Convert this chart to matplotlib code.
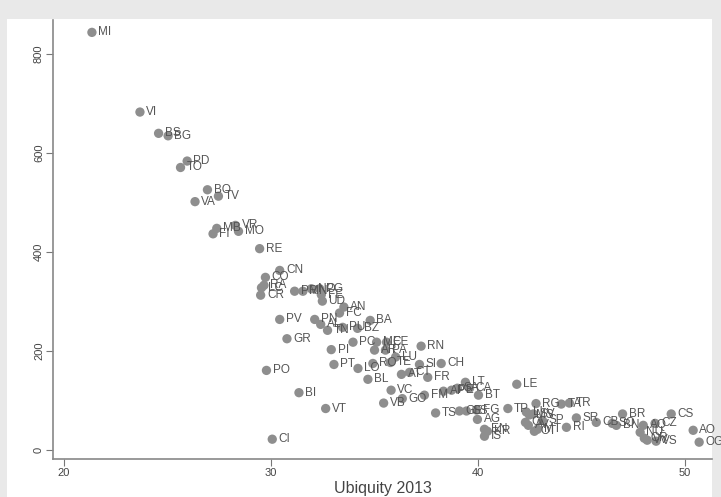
import matplotlib
matplotlib.use('Agg')
import matplotlib.pyplot as plt
from matplotlib.patches import Rectangle

plt.rcParams['font.family'] = ['Liberation Sans', 'DejaVu Sans']

# province codes, ubiquity 2013 (x) and value (y)
codes = ['MI', 'VI', 'BS', 'BG', 'PD', 'TO', 'BO', 'TV', 'VA', 'MB', 'FI', 'VR', 'MO', 'RE',
         'CN', 'CO', 'RA', 'LC', 'CR', 'PR', 'MN', 'NO', 'PG', 'FE', 'UD', 'AN', 'FC',
         'PV', 'PN', 'AL', 'TN', 'PU', 'BZ', 'BA', 'GR', 'PI', 'PC', 'ME', 'CE', 'AR', 'PA',
         'LU', 'PT', 'LO', 'RO', 'TE', 'BL', 'AT', 'CT', 'SI', 'CH', 'RN', 'FR', 'VC', 'VB',
         'GO', 'FM', 'AP', 'PE', 'SA', 'LT', 'CA', 'BT', 'TS', 'GE', 'SS', 'FG', 'AG', 'EN',
         'KR', 'IS', 'TP', 'LE', 'RG', 'TA', 'TR', 'LI', 'MS', 'SV', 'CL', 'AV', 'OT', 'MT',
         'SP', 'RI', 'SR', 'CB', 'SO', 'BN', 'BR', 'AQ', 'NU', 'CZ', 'OR', 'VV', 'VS', 'CS',
         'AO', 'OG', 'PO', 'BI', 'VT', 'CI']
ubiquity = [21.35, 23.67, 24.57, 25.03, 25.95, 25.63, 26.93, 27.46, 26.33, 27.38, 27.20, 28.28, 28.43, 29.45,
            30.42, 29.73, 29.66, 29.54, 29.50, 31.14, 31.54, 31.95, 32.35, 32.43, 32.48, 33.52, 33.31,
            30.42, 32.11, 32.40, 32.73, 33.46, 34.18, 34.79, 30.77, 32.91, 33.96, 35.10, 35.58, 35.00, 35.53,
            36.02, 33.04, 34.20, 34.92, 35.77, 34.68, 36.30, 36.69, 37.17, 38.22, 37.25, 37.57, 35.80, 35.44,
            36.34, 37.41, 38.33, 38.72, 39.00, 39.39, 39.59, 40.02, 37.95, 39.10, 39.44, 39.92, 39.97, 40.31,
            40.45, 40.31, 41.44, 41.87, 42.80, 44.02, 44.41, 42.33, 42.48, 42.67, 42.29, 42.43, 42.72, 42.87,
            43.11, 44.27, 44.75, 45.71, 46.48, 46.68, 46.98, 47.98, 47.83, 48.55, 48.03, 48.17, 48.60, 49.33,
            50.39, 50.68, 29.78, 31.35, 32.64, 30.06]
value = [844, 683, 640, 635, 584, 571, 526, 513, 502, 448, 437, 454, 442, 407,
         363, 349, 333, 328, 313, 321, 321, 326, 326, 314, 301, 289, 277,
         264, 264, 254, 242, 248, 246, 262, 225, 203, 218, 218, 218, 202, 202,
         188, 173, 165, 175, 177, 143, 153, 157, 173, 175, 210, 147, 121, 95,
         104, 111, 119, 121, 125, 137, 125, 111, 75, 79, 79, 81, 62, 42,
         38, 28, 84, 133, 94, 93, 95, 77, 71, 73, 56, 50, 38, 42,
         60, 46, 65, 56, 54, 50, 73, 50, 36, 54, 24, 20, 18, 73,
         40, 16, 161, 116, 84, 22]

xticks = [20, 30, 40, 50]
yticks = [0, 200, 400, 600, 800]

fig = plt.figure(figsize=(7.21, 4.97), dpi=100, facecolor='#e9e9e9')
fig.patches.append(Rectangle((7/721, 0), (712-7)/721, 1 - 19/497, transform=fig.transFigure,
                             facecolor='white', edgecolor='none', zorder=-10))
ax = fig.add_axes([53/721, 1 - 459/497, (712-53)/721, (459-20)/497])
ax.set_facecolor('white')

ax.scatter(ubiquity, value, s=45, color='#8e8e8e', edgecolors='none', zorder=3)
for c, x, y in zip(codes, ubiquity, value):
    ax.annotate(c, (x, y), xytext=(4.5, 0), textcoords='offset points', va='center', ha='left',
                fontsize=8.5, color='#555555', zorder=4, annotation_clip=False)

ax.set_xlim(19.47, 51.3)
ax.set_ylim(-18, 869)
ax.set_xticks(xticks)
ax.set_yticks(yticks)
ax.tick_params(colors='#777777', labelcolor='#444444', labelsize=8, length=5, width=0.8, pad=1.5)
plt.setp(ax.get_yticklabels(), rotation=90, va='center')
for s in ['top', 'right']:
    ax.spines[s].set_visible(False)
for s in ['left', 'bottom']:
    ax.spines[s].set_color('#888888')
    ax.spines[s].set_linewidth(1.2)
ax.set_xlabel('Ubiquity 2013', fontsize=11.5, color='#444444', labelpad=2)

plt.savefig('out.png', dpi=100, facecolor=fig.get_facecolor())
